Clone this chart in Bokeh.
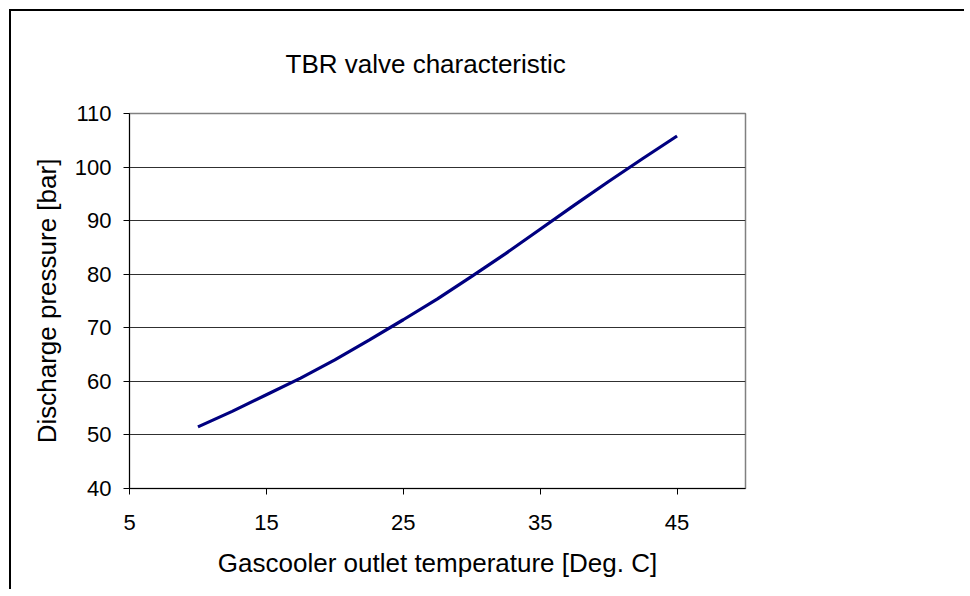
from bokeh.plotting import figure
from bokeh.models import Range1d, FixedTicker
from bokeh.embed import file_html
from bokeh.resources import INLINE

# Data
temperature = [10, 12.5, 15, 17.5, 20, 22.5, 25, 27.5, 30, 32.5, 35, 37.5, 40, 42.5, 45]
pressure = [51.5, 54.4, 57.5, 60.6, 64.0, 67.7, 71.5, 75.4, 79.6, 83.9, 88.4, 92.9, 97.3, 101.6, 105.8]

x_ticks = [5, 15, 25, 35, 45]
y_ticks = [40, 50, 60, 70, 80, 90, 100, 110]
grid_ticks = [50, 60, 70, 80, 90, 100]

FONT = "Liberation Sans"

p = figure(width=955, height=580, output_backend="svg", toolbar_location=None,
           x_range=Range1d(5, 50), y_range=Range1d(40, 110),
           title="TBR valve characteristic",
           min_border_left=118, min_border_right=221,
           min_border_top=102, min_border_bottom=103)

p.styles = {"border-left": "2px solid black", "border-top": "2px solid black",
            "margin-left": "9px", "margin-top": "9px"}

p.background_fill_color = "white"
p.border_fill_color = "white"
p.outline_line_color = "#808080"
p.outline_line_width = 1.5

p.title.text_font = FONT
p.title.text_font_size = "26px"
p.title.text_font_style = "normal"
p.title.text_color = "black"
p.title.align = "left"
p.title.offset = 156
p.title.standoff = 70

for ax in (p.xaxis[0], p.yaxis[0]):
    ax.axis_line_color = "black"
    ax.axis_line_width = 1
    ax.major_tick_line_color = "black"
    ax.major_tick_in = 0
    ax.major_tick_out = 6
    ax.minor_tick_line_color = None
    ax.major_label_text_font = FONT
    ax.major_label_text_font_size = "22px"
    ax.major_label_text_color = "black"
    ax.axis_label_text_font = FONT
    ax.axis_label_text_font_size = "26px"
    ax.axis_label_text_font_style = "normal"
    ax.axis_label_text_color = "black"

p.xaxis[0].ticker = FixedTicker(ticks=x_ticks)
p.yaxis[0].ticker = FixedTicker(ticks=y_ticks)
p.xaxis[0].axis_label = "Gascooler outlet temperature [Deg. C]"
p.yaxis[0].axis_label = "Discharge pressure [bar]"
p.xaxis[0].major_label_standoff = 20
p.xaxis[0].axis_label_standoff = 15
p.yaxis[0].major_label_standoff = 12
p.yaxis[0].axis_label_standoff = 10

p.xgrid.grid_line_color = None
p.ygrid.ticker = FixedTicker(ticks=grid_ticks)
p.ygrid.grid_line_color = "#303030"
p.ygrid.grid_line_width = 1

p.line(temperature, pressure, line_color="#000080", line_width=3.2)

open("out.html", "w").write(file_html(p, INLINE))
